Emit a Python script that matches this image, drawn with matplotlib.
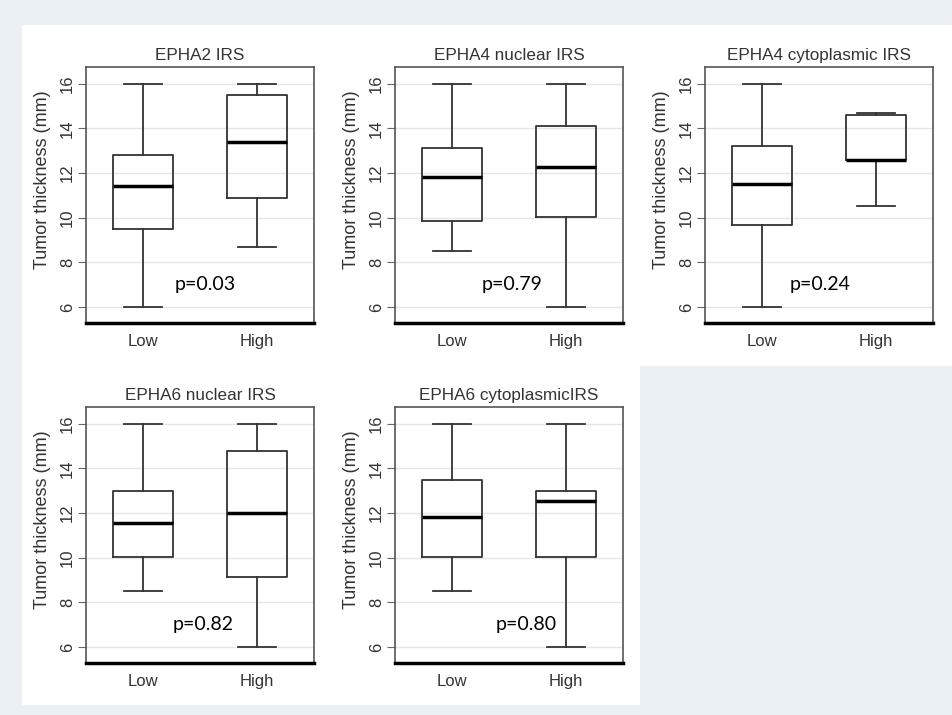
import matplotlib
matplotlib.use('agg')
import matplotlib.pyplot as plt
from matplotlib.patches import Rectangle

# panel data: whisker low, q1, median, q3, whisker high
titles = ["EPHA2 IRS", "EPHA4 nuclear IRS", "EPHA4 cytoplasmic IRS",
          "EPHA6 nuclear IRS", "EPHA6 cytoplasmicIRS"]
groups = ["Low", "High"]
low_stats = [
    [6.0, 9.5, 11.4, 12.8, 16.0],
    [8.5, 9.85, 11.8, 13.1, 16.0],
    [6.0, 9.65, 11.5, 13.2, 16.0],
    [8.5, 10.05, 11.55, 13.0, 16.0],
    [8.5, 10.05, 11.8, 13.5, 16.0],
]
high_stats = [
    [8.7, 10.9, 13.4, 15.5, 16.0],
    [6.0, 10.05, 12.25, 14.1, 16.0],
    [10.5, 12.6, 12.6, 14.6, 14.7],
    [6.0, 9.15, 12.0, 14.8, 16.0],
    [6.0, 10.05, 12.55, 13.0, 16.0],
]
pvals = ["p=0.03", "p=0.79", "p=0.24", "p=0.82", "p=0.80"]
p_x = [1.28, 1.26, 1.245, 1.26, 1.385]
yticks = [6, 8, 10, 12, 14, 16]

W, H = 952, 715
fig = plt.figure(figsize=(W / 100, H / 100), dpi=100)
fig.patch.set_facecolor("#eaf0f4")

# white panels behind the plots
fig.patches.append(Rectangle((22 / W, 1 - 366 / H), (W - 22) / W, 341 / H,
                             transform=fig.transFigure, fc="white", ec="none", zorder=-5))
fig.patches.append(Rectangle((22 / W, 1 - 705 / H), 618 / W, 340 / H,
                             transform=fig.transFigure, fc="white", ec="none", zorder=-5))

lefts = [86, 395, 705, 86, 395]
tops = [67, 67, 67, 407, 407]
txt = "#333333"
line_c = "#333333"

def to_stats(s, label):
    return dict(whislo=s[0], q1=s[1], med=s[2], q3=s[3], whishi=s[4],
                label=label, fliers=[])

for i in range(5):
    ax = fig.add_axes([lefts[i] / W, 1 - (tops[i] + 256) / H, 228 / W, 256 / H])
    ax.set_facecolor("white")
    stats = [to_stats(low_stats[i], groups[0]), to_stats(high_stats[i], groups[1])]
    ax.bxp(stats, positions=[1, 2], widths=0.52, showfliers=False,
           boxprops=dict(color=line_c, linewidth=1.3),
           whiskerprops=dict(color=line_c, linewidth=1.3),
           capprops=dict(color=line_c, linewidth=1.3),
           medianprops=dict(color="black", linewidth=2.5),
           capwidths=0.34)
    ax.set_xlim(0.5, 2.5)
    ax.set_ylim(5.28, 16.75)
    ax.set_yticks(yticks)
    ax.set_yticklabels([str(t) for t in yticks], rotation=90, va="center",
                       fontsize=12, color=txt, family="Liberation Sans")
    ax.set_xticks([1, 2])
    ax.set_xticklabels(groups, fontsize=12, color=txt, family="Liberation Sans")
    ax.tick_params(axis="x", length=0, pad=8)
    ax.tick_params(axis="y", length=6, width=0.8, color="#666666", pad=2)
    ax.grid(axis="y", color="#e6e6e6", linewidth=1.0)
    ax.set_axisbelow(True)
    for side in ["left", "top", "right"]:
        ax.spines[side].set_color("#555555")
        ax.spines[side].set_linewidth(1.2)
    ax.spines["bottom"].set_color("black")
    ax.spines["bottom"].set_linewidth(2.5)
    ax.set_ylabel("Tumor thickness (mm)", fontsize=13, color=txt,
                  family="Liberation Sans", labelpad=3)
    ax.yaxis.set_label_coords(-0.155, 0.56)
    ax.set_title(titles[i], fontsize=12.3, color=txt, family="Liberation Sans", pad=5)
    ax.text(p_x[i], 7.0, pvals[i], fontsize=14, color="black", family="Lato",
            ha="left", va="center")

fig.savefig("out.png", dpi=100, facecolor=fig.get_facecolor())
